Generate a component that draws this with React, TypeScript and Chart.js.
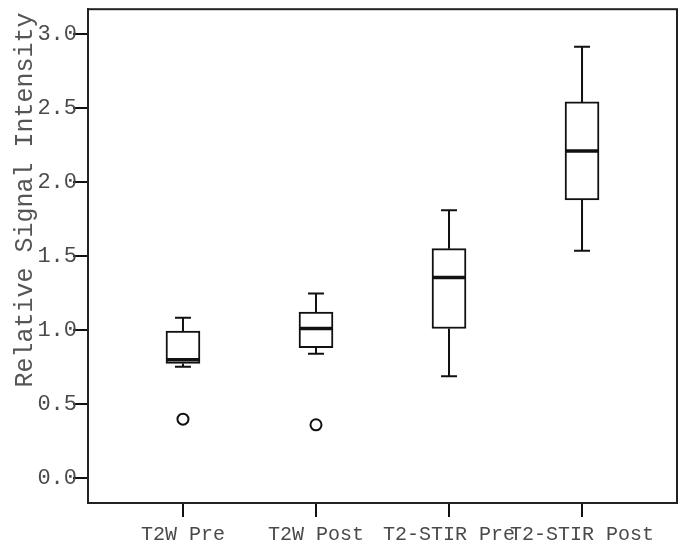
import React, { useEffect, useRef } from 'react';
import { Chart, registerables } from 'chart.js';

Chart.register(...registerables);

const categories = ['T2W Pre', 'T2W Post', 'T2-STIR Pre', 'T2-STIR Post'];
const positions = [1, 2, 3, 4];
const whiskerLow = [0.753, 0.84, 0.688, 1.536];
const q1 = [0.775, 0.882, 1.011, 1.879];
const median = [0.8, 1.011, 1.356, 2.209];
const q3 = [0.993, 1.122, 1.55, 2.541];
const whiskerHigh = [1.084, 1.247, 1.81, 2.913];
const outlierPos = [1, 2];
const outlierVal = [0.399, 0.361];
const yTicks = [0, 0.5, 1, 1.5, 2, 2.5, 3];
const yTitle = 'Relative Signal Intensity';

const FONT = "'Liberation Mono', 'DejaVu Sans Mono', monospace";

const boxPlugin = {
  id: 'boxExtras',
  afterDatasetsDraw(chart: any) {
    const { ctx, scales, chartArea } = chart;
    const x = scales.x;
    const y = scales.y;
    ctx.save();
    ctx.strokeStyle = '#111';
    positions.forEach((p, i) => {
      const cx = x.getPixelForValue(p);
      const capHalf = x.getPixelForValue(p + 0.06) - cx;
      const boxHalf = x.getPixelForValue(p + 0.127) - cx;
      ctx.lineWidth = 2;
      ctx.beginPath();
      ctx.moveTo(cx, y.getPixelForValue(q3[i]));
      ctx.lineTo(cx, y.getPixelForValue(whiskerHigh[i]));
      ctx.moveTo(cx - capHalf, y.getPixelForValue(whiskerHigh[i]));
      ctx.lineTo(cx + capHalf, y.getPixelForValue(whiskerHigh[i]));
      ctx.moveTo(cx, y.getPixelForValue(q1[i]));
      ctx.lineTo(cx, y.getPixelForValue(whiskerLow[i]));
      ctx.moveTo(cx - capHalf, y.getPixelForValue(whiskerLow[i]));
      ctx.lineTo(cx + capHalf, y.getPixelForValue(whiskerLow[i]));
      ctx.stroke();
      ctx.lineWidth = 3.5;
      ctx.beginPath();
      ctx.moveTo(cx - boxHalf, y.getPixelForValue(median[i]));
      ctx.lineTo(cx + boxHalf, y.getPixelForValue(median[i]));
      ctx.stroke();
    });
    ctx.lineWidth = 2;
    ctx.strokeStyle = '#222';
    ctx.strokeRect(chartArea.left, chartArea.top, chartArea.right - chartArea.left, chartArea.bottom - chartArea.top);
    ctx.save();
    ctx.translate(25, 200);
    ctx.rotate(-Math.PI / 2);
    ctx.fillStyle = '#555';
    ctx.font = `25px ${FONT}`;
    ctx.textAlign = 'center';
    ctx.textBaseline = 'middle';
    ctx.fillText(yTitle, 0, 0);
    ctx.restore();
    ctx.restore();
  },
};

export default function App() {
  const ref = useRef<HTMLCanvasElement>(null);
  useEffect(() => {
    if (!ref.current) return;
    const chart = new Chart(ref.current, {
      type: 'bar',
      data: {
        datasets: [
          {
            type: 'bar',
            data: positions.map((p, i) => ({ x: p, y: [q1[i], q3[i]] })) as any,
            backgroundColor: '#ffffff',
            borderColor: '#111',
            borderWidth: 2,
            borderSkipped: false,
            barThickness: 34,
          } as any,
          {
            type: 'scatter',
            data: outlierPos.map((p, i) => ({ x: p, y: outlierVal[i] })),
            pointStyle: 'circle',
            pointRadius: 5.5,
            pointBorderWidth: 2,
            pointBackgroundColor: '#ffffff',
            pointBorderColor: '#111',
            showLine: false,
          } as any,
        ],
      },
      options: {
        animation: false,
        responsive: true,
        maintainAspectRatio: false,
        layout: { padding: { top: 4, right: 8, left: 0, bottom: 0 } },
        plugins: { legend: { display: false }, tooltip: { enabled: false } },
        scales: {
          x: {
            type: 'linear',
            offset: false,
            min: 0.286,
            max: 4.714,
            afterBuildTicks: (s: any) => {
              s.ticks = positions.map((v) => ({ value: v }));
            },
            afterFit: (s: any) => {
              s.height = 45;
            },
            ticks: {
              autoSkip: false,
              maxRotation: 0,
              minRotation: 0,
              padding: 6,
              color: '#4a4a4a',
              font: { family: FONT, size: 20 },
              callback: (v: any) => categories[positions.indexOf(Number(v))] ?? '',
            },
            grid: {
              offset: false,
              drawOnChartArea: false,
              drawTicks: true,
              tickLength: 14,
              color: '#111',
              lineWidth: 2,
            },
            border: { display: true, color: '#222', width: 2 },
          },
          y: {
            type: 'linear',
            min: -0.167,
            max: 3.167,
            afterBuildTicks: (s: any) => {
              s.ticks = yTicks.map((v) => ({ value: v }));
            },
            afterFit: (s: any) => {
              s.width = 88;
            },
            ticks: {
              padding: -4,
              color: '#4a4a4a',
              font: { family: FONT, size: 22 },
              callback: (v: any) => Number(v).toFixed(1),
            },
            grid: {
              drawOnChartArea: false,
              drawTicks: true,
              tickLength: 15,
              color: '#111',
              lineWidth: 2,
            },
            border: { display: true, color: '#222', width: 2 },
          },
        },
      },
      plugins: [boxPlugin],
    });
    return () => chart.destroy();
  }, []);
  return (
    <div style={{ position: 'absolute', left: 0, top: 0, width: 685, height: 548, background: '#fff' }}>
      <canvas ref={ref} />
    </div>
  );
}
